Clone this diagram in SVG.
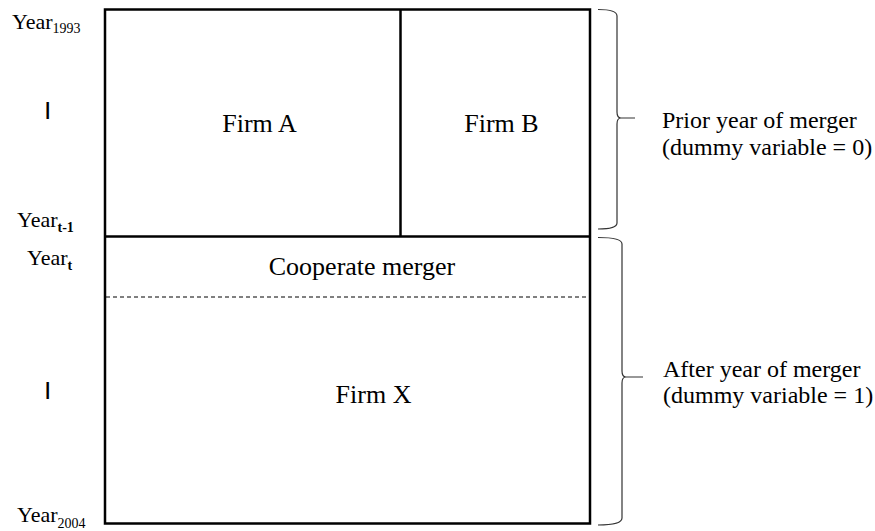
<svg xmlns="http://www.w3.org/2000/svg" width="875" height="531" viewBox="0 0 875 531">
<style>
.t{font-family:"Liberation Serif","Times New Roman",serif;fill:#000}
.box{font-size:26px;text-anchor:middle}
.yr{font-size:22px}
.sub{font-size:14px}
.lab{font-size:24px}
.frame{fill:none;stroke:#000;stroke-width:2.5}
.brace{fill:none;stroke:#333;stroke-width:1.2}
.bar{font-family:"Liberation Sans",Arial,sans-serif;font-size:19px;font-weight:bold;fill:#000}
</style>
<rect width="875" height="531" fill="#fff"/>
<g id="frame">
<rect class="frame" x="105" y="9.5" width="485" height="514"/>
</g>
<g id="firmA">
<text class="t box" x="259.5" y="132">Firm A</text>
</g>
<g id="firmB">
<text class="t box" x="501.5" y="132">Firm B</text>
</g>
<g id="merger">
<text class="t box" x="362" y="275">Cooperate merger</text>
</g>
<g id="firmX">
<text class="t box" x="373.5" y="403">Firm X</text>
</g>
<g id="connectors">
<line class="frame" x1="105" y1="236.5" x2="590" y2="236.5"/>
<line class="frame" x1="400.5" y1="9.5" x2="400.5" y2="236.5"/>
<line x1="106" y1="297" x2="589" y2="297" stroke="#000" stroke-width="1" stroke-dasharray="4,3"/>
<path class="brace" d="M598,9.5 Q617,9.5 617,16 L617,112 Q617,118 621,118 L635,118 M621,118 Q617,118 617,124 L617,223 Q617,229 598,229"/>
<path class="brace" d="M598,237.5 Q622,237.5 622,244 L622,371 Q622,377 626,377 L643,377 M626,377 Q622,377 622,383 L622,518 Q622,525 598,525"/>
</g>
<g id="years">
<text class="t yr" x="12" y="29">Year<tspan class="sub" dy="4">1993</tspan></text>
<text class="bar" x="45" y="115">|</text>
<text class="t yr" x="17" y="227">Year<tspan class="sub" dy="5" font-weight="bold">t-1</tspan></text>
<text class="t yr" x="27" y="265">Year<tspan class="sub" dy="5" font-weight="bold">t</tspan></text>
<text class="bar" x="45" y="395">|</text>
<text class="t yr" x="17" y="522">Year<tspan class="sub" dy="6">2004</tspan></text>
</g>
<g id="labels">
<text class="t lab" x="662" y="128">Prior year of merger</text>
<text class="t lab" x="662" y="155">(dummy variable = 0)</text>
<text class="t lab" x="663" y="377">After year of merger</text>
<text class="t lab" x="663" y="403">(dummy variable = 1)</text>
</g>
</svg>
